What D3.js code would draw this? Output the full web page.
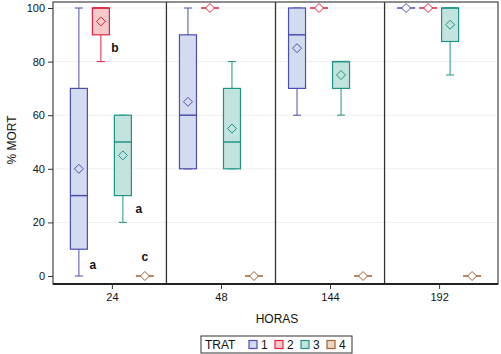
<!DOCTYPE html>
<html lang="en">
<head>
    <meta charset="UTF-8">
    <title>% MORT por HORAS</title>
    <script src="https://d3js.org/d3.v7.min.js"></script>
    <style>
        body { margin: 0; padding: 0; background: #fff; font-family: "Liberation Sans", Arial, sans-serif; }
        svg text { fill: #111; }
    </style>
</head>
<body>
    <svg id="chart"></svg>
    <script>
        // data
        const horas = ["24", "48", "144", "192"];
        const trats = ["1", "2", "3", "4"];
        // [min, q1, median, q3, max, mean] per hora, per trat
        const stats24  = [[0, 10, 30, 70, 100, 40], [80, 90, 100, 100, 100, 95], [20, 30, 50, 60, 60, 45], [0, 0, 0, 0, 0, 0]];
        const stats48  = [[40, 40, 60, 90, 100, 65], [100, 100, 100, 100, 100, 100], [40, 40, 50, 70, 80, 55], [0, 0, 0, 0, 0, 0]];
        const stats144 = [[60, 70, 90, 100, 100, 85], [100, 100, 100, 100, 100, 100], [60, 70, 80, 80, 80, 75], [0, 0, 0, 0, 0, 0]];
        const stats192 = [[100, 100, 100, 100, 100, 100], [100, 100, 100, 100, 100, 100], [75, 87.5, 100, 100, 100, 93.75], [0, 0, 0, 0, 0, 0]];
        const yTicks = [0, 20, 40, 60, 80, 100];
        const letters = ["a", "b", "a", "c"];   // letras em 24 h
        const letterValues = [4, 85, 25, 7];

        const strokeColors = ["#4d4db3", "#e0233f", "#1f9486", "#a0612e"];
        const fillColors = ["#d3dbf1", "#f6caca", "#c3e3df", "#ead8c6"];

        const width = 501, height = 354;
        const plotLeft = 53, plotRight = 498, plotTop = 2, plotBottom = 284;

        const svg = d3.select("#chart").attr("width", width).attr("height", height);

        const x = d3.scalePoint().domain(horas).range([plotLeft, plotRight]).padding(0.54);
        const inner = d3.scaleBand().domain(trats).range([-44, 44]);
        const boxW = 17;
        const y = d3.scaleLinear().domain([0, 100]).range([276, 8]);

        const allStats = [stats24, stats48, stats144, stats192];

        // grid
        svg.append("g").selectAll("line").data(yTicks.slice(1)).join("line")
            .attr("x1", plotLeft).attr("x2", plotRight)
            .attr("y1", d => y(d)).attr("y2", d => y(d))
            .attr("stroke", "#f0f0f0").attr("stroke-width", 1);

        // boxes
        horas.forEach((h, i) => {
            const cx0 = x(h);
            allStats[i].forEach((s, j) => {
                const cx = cx0 + inner(trats[j]) + inner.bandwidth() / 2;
                const [mn, q1, med, q3, mx, mean] = s;
                const g = svg.append("g");
                const col = strokeColors[j];
                if (mn === mx) {
                    g.append("line").attr("x1", cx - 9).attr("x2", cx + 9)
                        .attr("y1", y(med)).attr("y2", y(med))
                        .attr("stroke", col).attr("stroke-width", 1.5);
                } else {
                    g.append("line").attr("x1", cx).attr("x2", cx).attr("y1", y(mx)).attr("y2", y(q3)).attr("stroke", col);
                    g.append("line").attr("x1", cx).attr("x2", cx).attr("y1", y(q1)).attr("y2", y(mn)).attr("stroke", col);
                    g.append("line").attr("x1", cx - 4).attr("x2", cx + 4).attr("y1", y(mx)).attr("y2", y(mx)).attr("stroke", col);
                    g.append("line").attr("x1", cx - 4).attr("x2", cx + 4).attr("y1", y(mn)).attr("y2", y(mn)).attr("stroke", col);
                    g.append("rect").attr("x", cx - boxW / 2).attr("width", boxW)
                        .attr("y", y(q3)).attr("height", y(q1) - y(q3))
                        .attr("fill", fillColors[j]).attr("stroke", col).attr("stroke-width", 1.2);
                    g.append("line").attr("x1", cx - boxW / 2).attr("x2", cx + boxW / 2)
                        .attr("y1", y(med)).attr("y2", y(med)).attr("stroke", col).attr("stroke-width", 1.5);
                }
                const dm = 4.5;
                g.append("path")
                    .attr("d", `M${cx},${y(mean) - dm}L${cx + dm},${y(mean)}L${cx},${y(mean) + dm}L${cx - dm},${y(mean)}Z`)
                    .attr("fill", mn === mx ? "#fff" : "none").attr("stroke", col).attr("stroke-width", 1);
            });
        });

        // letras
        const letterDx = [14, 14, 16, 0];
        svg.append("g").selectAll("text").data(letters).join("text")
            .attr("x", (d, j) => x("24") + inner(trats[j]) + inner.bandwidth() / 2 + letterDx[j])
            .attr("y", (d, j) => y(letterValues[j]))
            .attr("text-anchor", "middle").attr("dy", "0.35em")
            .attr("font-size", 12).attr("font-weight", "bold")
            .text(d => d);

        // panel separators
        svg.append("g").selectAll("line").data(horas.slice(1)).join("line")
            .attr("x1", d => x(d) - x.step() / 2).attr("x2", d => x(d) - x.step() / 2)
            .attr("y1", plotTop).attr("y2", plotBottom)
            .attr("stroke", "#333").attr("stroke-width", 1.3);

        // frame
        svg.append("rect").attr("x", plotLeft).attr("y", plotTop).attr("width", plotRight - plotLeft).attr("height", plotBottom - plotTop)
            .attr("fill", "none").attr("stroke", "#444").attr("stroke-width", 1.2);
        svg.append("line").attr("x1", plotLeft).attr("x2", plotRight).attr("y1", plotBottom).attr("y2", plotBottom)
            .attr("stroke", "#222").attr("stroke-width", 2);

        // axes
        const yAxis = svg.append("g").attr("transform", `translate(${plotLeft},0)`)
            .call(d3.axisLeft(y).tickValues(yTicks).tickSize(5).tickPadding(3));
        yAxis.select(".domain").remove();
        yAxis.selectAll("line").attr("stroke", "#333");
        yAxis.selectAll("text").attr("font-size", 11).attr("font-family", "Liberation Sans Narrow, Liberation Sans, sans-serif");

        const xAxis = svg.append("g").attr("transform", `translate(0,${plotBottom})`)
            .call(d3.axisBottom(x).tickSize(5).tickPadding(4));
        xAxis.select(".domain").remove();
        xAxis.selectAll("line").attr("stroke", "#333");
        xAxis.selectAll("text").attr("font-size", 11).attr("font-family", "Liberation Sans Narrow, Liberation Sans, sans-serif");

        svg.append("text").attr("transform", "rotate(-90)")
            .attr("x", -140).attr("y", 16).attr("text-anchor", "middle")
            .attr("font-size", 12).text("% MORT");

        svg.append("text").attr("x", 277).attr("y", 323).attr("text-anchor", "middle")
            .attr("font-size", 12).text("HORAS");

        // legend
        const lg = svg.append("g").attr("transform", "translate(201,336)");
        lg.append("rect").attr("width", 151).attr("height", 17).attr("fill", "#fff").attr("stroke", "#333");
        lg.append("text").attr("x", 4).attr("y", 13).attr("font-size", 12).text("TRAT");
        const item = lg.selectAll("g.item").data(trats).join("g")
            .attr("transform", (d, j) => `translate(${48 + j * 26},0)`);
        item.append("rect").attr("x", 0).attr("y", 4.5).attr("width", 8).attr("height", 8)
            .attr("fill", (d, j) => fillColors[j]).attr("stroke", (d, j) => strokeColors[j]).attr("stroke-width", 1.2);
        item.append("text").attr("x", 12).attr("y", 13).attr("font-size", 12).text(d => d);
    </script>
</body>
</html>
